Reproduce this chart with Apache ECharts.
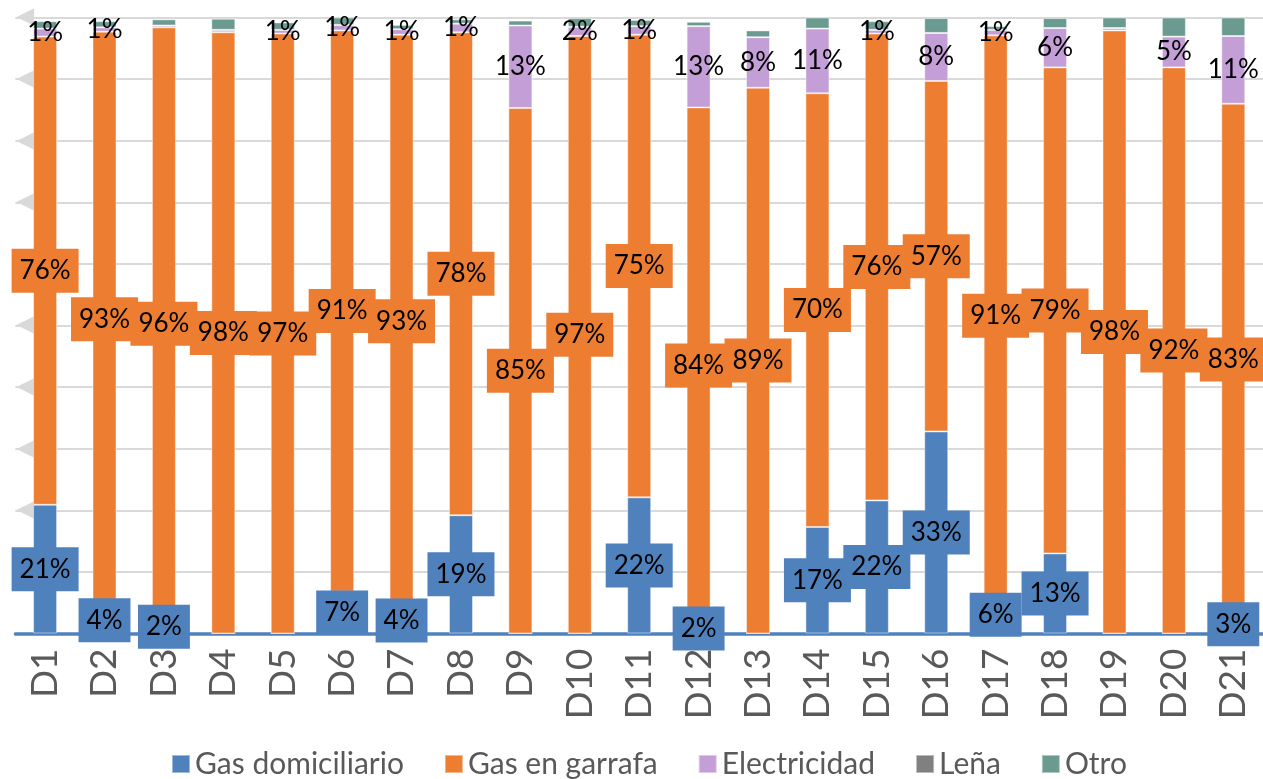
<!DOCTYPE html>
<html>
<head>
<meta charset="utf-8">
<script src="https://cdn.jsdelivr.net/npm/echarts@6.0.0/dist/echarts.min.js"></script>
<style>
html,body{margin:0;padding:0;background:#fff;}
#chart{width:1263px;height:779px;}
</style>
</head>
<body>
<div id="chart"></div>
<script>
const categories = ['D1','D2','D3','D4','D5','D6','D7','D8','D9','D10','D11','D12','D13','D14','D15','D16','D17','D18','D19','D20','D21'];
const gasDomiciliario = [20.9, 4.3, 2.2, 0, 0, 6.8, 4.2, 19.2, 0, 0, 22.1, 1.6, 0, 17.3, 21.6, 32.8, 6.1, 13.0, 0, 0, 3.0];
const gasGarrafa      = [76.0, 93.4, 96.2, 97.6, 97.4, 91.1, 93.0, 78.4, 85.3, 97.0, 75.1, 83.8, 88.6, 70.4, 75.8, 56.9, 91.0, 78.9, 97.9, 91.9, 83.0];
const electricidad    = [1.3, 0.7, 0.3, 0.4, 0.6, 0.9, 0.9, 1.4, 13.4, 1.5, 1.4, 13.2, 8.2, 10.5, 0.6, 7.8, 0.9, 6.4, 0.4, 5.0, 11.0];
const lena            = [0, 0, 0, 0, 0, 0, 0, 0, 0, 0, 0, 0, 0, 0, 0, 0, 0, 0, 0, 0, 0];
const otro            = [1.2, 1.0, 1.0, 1.8, 1.2, 1.2, 0.7, 0.7, 0.8, 1.4, 1.0, 0.7, 1.1, 1.8, 1.4, 2.4, 0.6, 1.6, 1.7, 3.1, 3.0];
const seriesNames = ['Gas domiciliario', 'Gas en garrafa', 'Electricidad', 'Leña', 'Otro'];
const yTicks = [0, 10, 20, 30, 40, 50, 60, 70, 80, 90, 100];

const colors = ['#4f81bd', '#ed7d31', '#c49ed6', '#808080', '#6a9a90'];
const FONT = 'Lato';

function labelFor(idx) {
  const base = {
    position: 'inside',
    formatter: p => Math.round(p.value) + '%',
    color: '#000',
    fontFamily: FONT,
    fontSize: 26,
    lineHeight: 26
  };
  if (idx === 0 || idx === 1) {
    return Object.assign(base, {backgroundColor: colors[idx], padding: [9, 8, 9, 8]});
  }
  return base;
}

function buildData(arr, idx) {
  return arr.map(v => {
    const show = (idx <= 2) && v >= 0.5;
    return {value: v, label: Object.assign({show: show}, labelFor(idx))};
  });
}

const allData = [gasDomiciliario, gasGarrafa, electricidad, lena, otro];
const series = allData.map((arr, i) => ({
  name: seriesNames[i],
  type: 'bar',
  stack: 'total',
  barWidth: 24,
  itemStyle: {color: colors[i], borderColor: 'rgba(255,255,255,0.45)', borderWidth: 1},
  data: buildData(arr, i),
  z: 3
}));

const chart = echarts.init(document.getElementById('chart'), null, {renderer: 'canvas'});
chart.setOption({
  animation: false,
  backgroundColor: '#fff',
  grid: {left: 15.4, right: -3, top: 17.5, bottom: 145.5, containLabel: false},
  xAxis: {
    type: 'category',
    data: categories,
    axisLine: {show: true, lineStyle: {color: '#4f81bd', width: 3.5}},
    axisTick: {show: false},
    axisLabel: {rotate: 90, fontSize: 37, fontFamily: FONT, color: '#595959', margin: 15},
    z: 2
  },
  yAxis: {
    type: 'value',
    min: yTicks[0],
    max: yTicks[yTicks.length - 1],
    interval: 10,
    axisLine: {show: false},
    axisTick: {show: false},
    splitLine: {show: true, lineStyle: {color: '#d9d9d9', width: 2}},
    axisLabel: {
      inside: true,
      margin: 1,
      formatter: v => (v === 0 ? '' : '◀'),
      color: '#d9d9d9',
      fontFamily: 'DejaVu Sans',
      fontSize: 23
    }
  },
  legend: {
    data: seriesNames,
    top: 742,
    left: 166,
    itemWidth: 18,
    itemHeight: 18,
    itemGap: 40,
    icon: 'rect',
    textStyle: {fontFamily: FONT, fontSize: 30, color: '#595959', lineHeight: 34}
  },
  series: series
});
</script>
</body>
</html>
